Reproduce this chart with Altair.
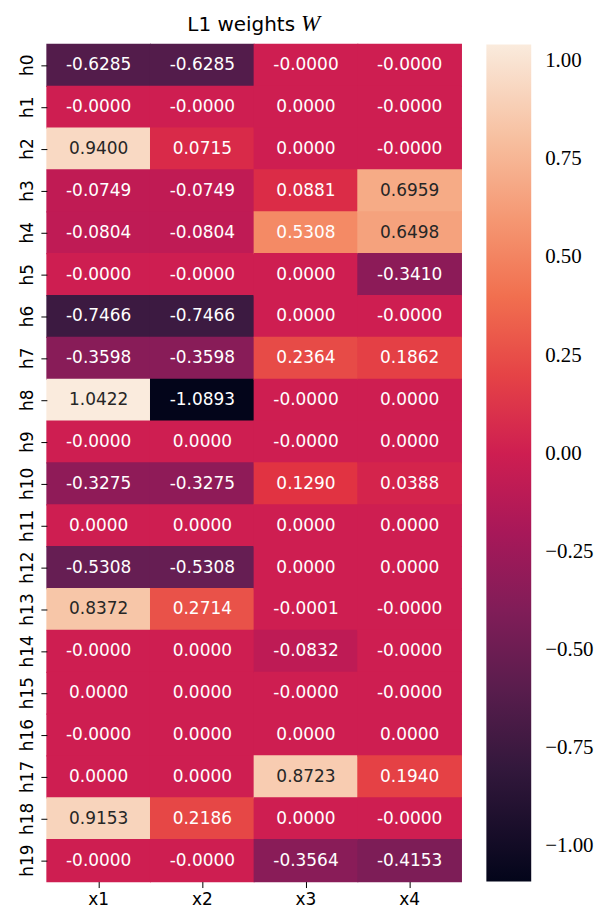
import altair as alt
import pandas as pd

rows = [f"h{i}" for i in range(20)]
cols = ["x1", "x2", "x3", "x4"]

x1_vals = [-0.6285, -0.0, 0.9400, -0.0749, -0.0804, -0.0, -0.7466, -0.3598, 1.0422, -0.0,
           -0.3275, 0.0, -0.5308, 0.8372, -0.0, 0.0, -0.0, 0.0, 0.9153, -0.0]
x2_vals = [-0.6285, -0.0, 0.0715, -0.0749, -0.0804, -0.0, -0.7466, -0.3598, -1.0893, 0.0,
           -0.3275, 0.0, -0.5308, 0.2714, 0.0, 0.0, 0.0, 0.0, 0.2186, -0.0]
x3_vals = [-0.0, 0.0, 0.0, 0.0881, 0.5308, 0.0, 0.0, 0.2364, -0.0, -0.0,
           0.1290, 0.0, 0.0, -0.0001, -0.0832, -0.0, 0.0, 0.8723, 0.0, -0.3564]
x4_vals = [-0.0, -0.0, -0.0, 0.6959, 0.6498, -0.3410, -0.0, 0.1862, 0.0, 0.0,
           0.0388, 0.0, 0.0, -0.0, -0.0, -0.0, 0.0, 0.1940, -0.0, -0.4153]

colorbar_ticks = [-1.0, -0.75, -0.5, -0.25, 0.0, 0.25, 0.5, 0.75, 1.0]

# rocket-like colormap stops
cmap_domain = [-1.0893, -0.7848, -0.4803, -0.1758, 0.0, 0.1287, 0.4332, 0.7377, 1.0422]
cmap_range = ["#03051A", "#35193E", "#701F57", "#AD1759", "#CE1E51", "#E13342",
              "#F37651", "#F6B48F", "#FAEBDD"]

records = []
for c, vals in zip(cols, [x1_vals, x2_vals, x3_vals, x4_vals]):
    for r, v in zip(rows, vals):
        records.append({"row": r, "col": c, "w": v, "label": f"{v:.4f}"})
df = pd.DataFrame(records)

color_scale = alt.Scale(domain=cmap_domain, range=cmap_range, interpolate="rgb", clamp=True)

SANS = "DejaVu Sans"

base = alt.Chart(df).encode(
    x=alt.X("col:N", sort=cols, title=None,
            scale=alt.Scale(paddingInner=0, paddingOuter=0),
            axis=alt.Axis(labelAngle=0, labelFont=SANS, labelFontSize=17,
                          labelColor="#000000", domain=False, grid=False, tickSize=6,
                          tickColor="#000000", labelPadding=4)),
    y=alt.Y("row:N", sort=rows, title=None,
            scale=alt.Scale(paddingInner=0, paddingOuter=0),
            axis=alt.Axis(labelAngle=270, labelFont=SANS, labelFontSize=17,
                          labelColor="#000000", domain=False, grid=False, tickSize=6,
                          tickColor="#000000", labelPadding=4,
                          labelAlign="center", labelBaseline="bottom")),
)

heat = base.mark_rect(
    width=alt.RelativeBandSize(1.01), height=alt.RelativeBandSize(1.03)
).encode(
    color=alt.Color("w:Q", scale=color_scale,
                    legend=alt.Legend(title=None, orient="right", offset=25,
                                      gradientLength=840, gradientThickness=45,
                                      values=colorbar_ticks, format=".2f",
                                      labelFont="Liberation Serif", labelFontSize=21,
                                      labelColor="#000000", labelOffset=14,
                                      labelOverlap=False, gradientStrokeWidth=0,
                                      padding=0)),
)

text = base.mark_text(font=SANS, fontSize=17, baseline="middle").encode(
    text="label:N",
    color=alt.condition(alt.datum.w > 0.6, alt.value("#262626"), alt.value("#FFFFFF")),
)

title1 = alt.Chart(pd.DataFrame({"t": ["L1 weights"]})).mark_text(
    font=SANS, fontSize=20, align="right", baseline="alphabetic", color="#000000"
).encode(text="t:N", x=alt.value(249), y=alt.value(-13))

title2 = alt.Chart(pd.DataFrame({"t": ["W"]})).mark_text(
    font="Liberation Serif", fontSize=23, fontStyle="italic", align="left",
    baseline="alphabetic", color="#000000"
).encode(text="t:N", x=alt.value(255), y=alt.value(-13))

chart = alt.layer(heat, text, title1, title2).properties(
    width=416, height=840,
    padding={"left": 11, "top": 4, "right": 0, "bottom": 5},
).configure_view(stroke=None)

chart.save("out.html", embed_options={"renderer": "svg", "actions": False})
